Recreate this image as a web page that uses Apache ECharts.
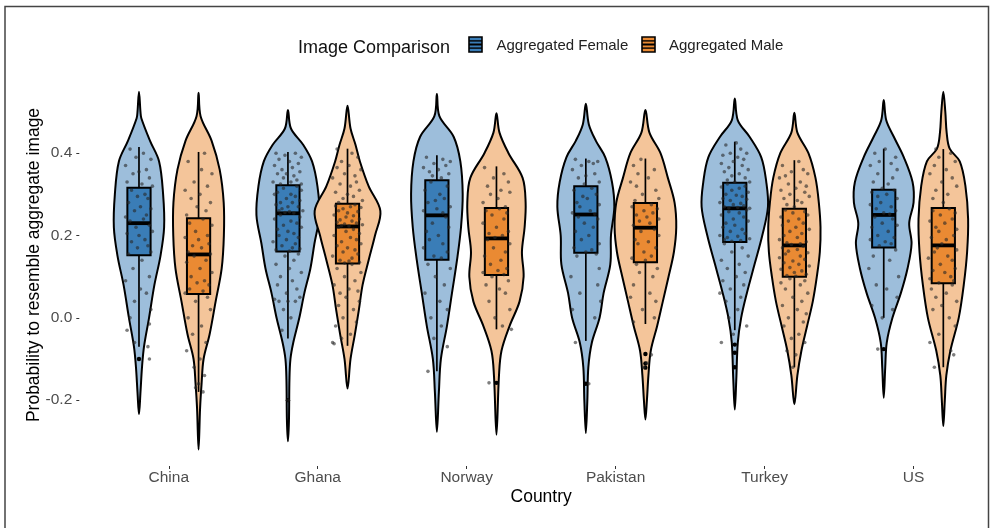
<!DOCTYPE html>
<html>
<head>
<meta charset="utf-8">
<script src="https://cdn.jsdelivr.net/npm/echarts@6/dist/echarts.min.js"></script>
<style>
  html, body { margin: 0; padding: 0; background: #fff; }
  #chart { width: 996px; height: 528px; }
</style>
</head>
<body>
<div id="chart"></div>
<script>
// ---- data -------------------------------------------------------------
const countries = ['China', 'Ghana', 'Norway', 'Pakistan', 'Turkey', 'US'];
const groupNames = ['Aggregated Female', 'Aggregated Male'];
const yTicks = [-0.2, 0.0, 0.2, 0.4];

// box statistics per country: [lower whisker, Q1, median, Q3, upper whisker]
const femaleBox = [
  [-0.07, 0.152, 0.230, 0.316, 0.415],
  [-0.05, 0.161, 0.254, 0.322, 0.403],
  [-0.13, 0.141, 0.249, 0.334, 0.395],
  [-0.056, 0.158, 0.251, 0.320, 0.387],
  [-0.03, 0.184, 0.266, 0.328, 0.428],
  [0.00, 0.171, 0.250, 0.311, 0.411]
];
const maleBox = [
  [-0.18, 0.058, 0.154, 0.242, 0.403],
  [-0.068, 0.132, 0.222, 0.277, 0.411],
  [-0.028, 0.104, 0.193, 0.267, 0.368],
  [-0.015, 0.135, 0.219, 0.279, 0.387],
  [-0.12, 0.100, 0.176, 0.265, 0.383],
  [-0.12, 0.084, 0.176, 0.267, 0.410]
];

// boxplot outliers per country
const femaleOutliers = [[-0.10], [-0.20], [], [-0.16], [-0.065, -0.085, -0.12], [-0.076]];
const maleOutliers = [[], [], [-0.158], [-0.088, -0.111, -0.121], [], []];

// violin density outlines: [value, relative density], bottom tip to top tip
const femaleViolin = [
  [[-0.234,0],[-0.18,.045],[-0.12,.09],[-0.07,.15],[0,.30],[.08,.46],[.15,.64],[.22,.75],[.30,.72],[.38,.60],[.43,.33],[.485,.07],[.50,.045],[.549,0]],
  [[-0.30,0],[-0.25,.03],[-0.15,.045],[-0.10,.075],[-0.06,.16],[0,.34],[.06,.49],[.12,.67],[.18,.79],[.25,.94],[.32,.88],[.38,.72],[.42,.46],[.46,.09],[.505,0]],
  [[-0.277,0],[-0.18,.06],[-0.10,.12],[-0.02,.30],[.06,.45],[.14,.60],[.22,.72],[.30,.77],[.38,.70],[.44,.50],[.49,.075],[.544,0]],
  [[-0.28,0],[-0.20,.045],[-0.12,.075],[-0.06,.18],[0,.41],[.06,.53],[.13,.73],[.20,.75],[.27,.85],[.33,.78],[.39,.58],[.43,.30],[.47,.09],[.52,0]],
  [[-0.223,0],[-0.15,.045],[-0.06,.09],[0,.19],[.06,.36],[.13,.59],[.20,.82],[.27,.99],[.33,.94],[.39,.79],[.44,.44],[.48,.09],[.533,0]],
  [[-0.194,0],[-0.12,.045],[-0.06,.09],[0,.26],[.06,.51],[.12,.71],[.18,.83],[.23,.76],[.28,.89],[.33,.86],[.39,.60],[.44,.30],[.48,.075],[.529,0]]
];
const maleViolin = [
  [[-0.32,0],[-0.22,.045],[-0.16,.09],[-0.10,.15],[-0.04,.33],[.04,.51],[.12,.69],[.20,.755],[.28,.75],[.36,.63],[.43,.39],[.49,.06],[.547,0]],
  [[-0.172,0],[-0.10,.09],[-0.04,.22],[.02,.34],[.08,.45],[.14,.63],[.20,.82],[.26,.98],[.32,.63],[.38,.37],[.42,.24],[.46,.09],[.515,0]],
  [[-0.284,0],[-0.14,.075],[-0.08,.15],[-0.02,.39],[.04,.69],[.10,.81],[.16,.76],[.22,.84],[.28,.87],[.34,.78],[.40,.36],[.45,.09],[.497,0]],
  [[-0.247,0],[-0.20,.045],[-0.14,.09],[-0.08,.16],[-0.02,.35],[.04,.52],[.10,.69],[.16,.85],[.22,.92],[.28,.87],[.34,.67],[.40,.45],[.45,.12],[.505,0]],
  [[-0.21,0],[-0.14,.09],[-0.08,.21],[-0.02,.38],[.04,.55],[.10,.67],[.16,.76],[.22,.78],[.28,.73],[.34,.63],[.40,.42],[.45,.09],[.498,0]],
  [[-0.263,0],[-0.20,.045],[-0.14,.09],[-0.08,.21],[0,.46],[.08,.61],[.16,.71],[.24,.74],[.32,.66],[.38,.49],[.411,.19],[.45,.10],[.50,.06],[.549,0]]
];

// individual observations: [horizontal jitter (% of category band), value]
const chinaFemalePts = [[-6,.41],[3,.40],[-2,.39],[8,.385],[-9,.37],[5,.36],[0,.355],[-4,.35],[7,.34],[-8,.33],[2,.325],[9,.32],
  [-5,.31],[4,.30],[-1,.295],[6,.29],[-7,.28],[1,.27],[8,.265],[-3,.26],[5,.25],[-9,.245],[3,.24],[-6,.235],
  [7,.225],[-2,.22],[9,.21],[-8,.205],[0,.20],[4,.19],[-5,.185],[6,.175],[-1,.17],[8,.16],[-7,.155],
  [2,.14],[-4,.12],[7,.10],[-9,.09],[1,.07],[5,.06],[-3,.04],[8,.02],[-6,.0],[7,-.015],[-8,-.03],[-3,-.06],[6,-.07],[7,-.10]];
const chinaMalePts = [[4,.40],[-7,.38],[2,.36],[9,.35],[-3,.33],[6,.32],[-9,.31],[1,.30],[-5,.29],[8,.28],[-1,.27],[5,.26],[-8,.25],
  [3,.24],[-6,.23],[9,.225],[-2,.21],[6,.20],[-9,.195],[0,.19],[7,.18],[-4,.175],[2,.17],[-7,.16],[8,.155],
  [-3,.15],[5,.14],[-8,.135],[1,.12],[9,.11],[-5,.10],[4,.09],[-1,.085],[7,.08],[-6,.07],[3,.065],[-9,.06],
  [6,.05],[-2,.04],[8,.02],[-7,.0],[2,-.02],[-4,-.04],[5,-.06],[-8,-.08],[1,-.10],[-3,-.12],[4,-.14],[0,-.16],[-2,-.17],[3,-.18]];
const ghanaFemalePts = [[-8,.40],[5,.40],[-2,.395],[9,.39],[-6,.385],[1,.38],[7,.375],[-9,.37],[3,.365],[-4,.36],[8,.355],[-1,.35],[-7,.35],[4,.345],[-3,.34],[6,.335],[-10,.33],[2,.33],[9,.325],[-5,.325],
  [6,.32],[-3,.315],[9,.31],[-7,.305],[2,.30],[-9,.30],[5,.295],[-1,.29],[8,.285],[-5,.28],[3,.28],[-8,.275],[0,.27],[7,.27],[-4,.265],[10,.26],[-6,.26],[1,.258],[-2,.256],[4,.255],
  [-5,.25],[8,.245],[-9,.24],[2,.235],[6,.23],[-3,.225],[9,.22],[-7,.215],[0,.21],[4,.205],[-6,.20],[7,.195],[-1,.19],[-10,.185],[5,.18],[-4,.175],[3,.17],[8,.168],[-8,.165],[1,.162],
  [7,.155],[-2,.15],[4,.14],[-8,.13],[1,.12],[9,.11],[-5,.10],[3,.09],[-7,.08],[6,.07],[-1,.06],[8,.05],[-9,.045],[-6,.04],[0,.04],[5,.04],[-3,.02],[2,.0],[-4,-.03],[0,-.20]];
const ghanaMalePts = [[-7,.41],[3,.40],[7,.39],[-4,.38],[1,.37],[-7,.365],[9,.36],[-2,.35],[5,.345],[-10,.34],[6,.33],[-5,.325],[2,.32],[8,.31],[-8,.305],[0,.30],[4,.295],[-3,.29],[10,.285],[-6,.28],
  [5,.275],[-8,.272],[2,.27],[9,.268],[-3,.265],[-6,.26],[7,.258],[0,.255],[-9,.25],[4,.248],[-1,.245],[8,.24],[-5,.238],[3,.235],[-7,.232],[6,.23],[-2,.228],[10,.226],[-4,.224],[1,.223],
  [-6,.22],[4,.215],[-1,.21],[8,.205],[-9,.20],[2,.195],[6,.19],[-4,.185],[9,.18],[-7,.175],[0,.17],[5,.165],[-3,.16],[7,.155],[-10,.15],[3,.145],[-5,.14],[1,.138],[8,.135],[-2,.133],
  [3,.13],[-7,.12],[9,.11],[-2,.10],[5,.09],[-9,.08],[1,.07],[7,.065],[-5,.06],[-1,.05],[8,.04],[-6,.03],[4,.02],[-3,.0],[6,-.01],[-8,-.02],[2,-.04],[-4,-.05],[-10,-.06],[-9,-.063]];
const norwayFemalePts = [[-7,.39],[4,.385],[9,.38],[-2,.375],[6,.37],[-9,.365],[1,.36],[-5,.355],[8,.35],[-3,.345],[3,.34],
  [-4,.33],[7,.32],[-8,.31],[2,.30],[5,.29],[-1,.285],[-6,.28],[9,.27],[0,.265],[-9,.26],[4,.255],
  [6,.245],[-3,.23],[8,.22],[-7,.21],[1,.20],[-5,.19],[4,.18],[-9,.17],[7,.16],[-2,.15],[3,.145],
  [-6,.13],[9,.12],[-1,.10],[5,.08],[-8,.06],[2,.04],[7,.02],[-4,.0],[3,-.02],[-2,-.05],[7,-.07],[-6,-.13]];
const norwayMalePts = [[-8,.365],[5,.35],[-2,.34],[8,.33],[-6,.32],[3,.31],[9,.305],[-4,.30],[1,.29],[-9,.28],[6,.27],
  [2,.265],[-7,.26],[7,.255],[-3,.25],[5,.24],[-9,.23],[0,.22],[8,.21],[-5,.205],[4,.20],[-1,.195],
  [-6,.19],[9,.18],[-2,.17],[6,.16],[-8,.15],[3,.14],[-4,.13],[7,.12],[1,.115],[-9,.11],[5,.105],
  [-3,.10],[8,.09],[-7,.08],[2,.07],[6,.06],[-5,.04],[9,.02],[-1,.0],[4,-.02],[10,-.028],[-5,-.158]];
const pakistanFemalePts = [[-7,.385],[2,.38],[8,.38],[5,.375],[-3,.37],[-9,.36],[6,.35],[0,.345],[-5,.34],[9,.33],[-1,.325],
  [4,.315],[-8,.31],[7,.30],[-2,.295],[1,.29],[-6,.28],[9,.275],[-4,.27],[3,.26],[-9,.255],[6,.252],
  [-5,.245],[8,.24],[-1,.23],[5,.22],[-7,.21],[2,.20],[-3,.19],[9,.18],[-8,.17],[4,.165],[0,.16],
  [7,.155],[-6,.15],[9,.12],[-10,.10],[8,.08],[-4,.06],[10,.04],[-9,.02],[6,.0],[-7,-.06],[2,-.16]];
const pakistanMalePts = [[-3,.385],[-8,.37],[6,.36],[-5,.35],[2,.34],[-10,.33],[-6,.32],[7,.31],[-2,.30],[9,.29],[-7,.285],
  [4,.275],[-9,.27],[8,.265],[-1,.26],[5,.255],[-6,.25],[1,.245],[9,.24],[-4,.235],[3,.23],[-8,.225],
  [6,.215],[-3,.21],[9,.20],[-7,.19],[2,.185],[-5,.18],[7,.17],[-1,.16],[4,.15],[-9,.145],[0,.14],
  [-6,.13],[8,.12],[-4,.11],[5,.10],[-8,.08],[3,.06],[-10,.05],[7,.04],[-2,.02],[6,.0],[-8,-.01],[4,-.09],[1,-.11],[-1,-.12]];
const turkeyFemalePts = [[1,.425],[-6,.42],[4,.41],[-3,.40],[8,.40],[-8,.395],[2,.39],[6,.385],[-1,.38],[-9,.375],[5,.37],[-4,.365],[9,.36],[-7,.355],[3,.35],[-2,.345],[7,.34],[-5,.335],[0,.33],[10,.33],
  [-5,.325],[7,.32],[-9,.318],[3,.315],[-2,.31],[9,.305],[-6,.30],[1,.298],[5,.295],[-8,.29],[8,.288],[-3,.285],[-10,.28],[4,.278],[-1,.275],[6,.272],[-7,.27],[2,.268],[-4,.267],[10,.266],
  [8,.262],[-4,.258],[3,.255],[-9,.25],[6,.245],[-1,.24],[9,.235],[-6,.23],[0,.225],[-8,.22],[5,.215],[-3,.21],[7,.205],[-10,.20],[2,.198],[-5,.195],[10,.192],[-7,.19],[4,.188],[-2,.186],
  [-7,.18],[5,.17],[-2,.16],[9,.15],[-9,.14],[3,.13],[-5,.12],[7,.11],[1,.10],[-8,.09],[6,.08],[-3,.07],[-10,.06],[4,.05],[-6,.04],[2,.02],[-4,.0],[8,-.02],[-1,-.04],[-9,-.06]];
const turkeyMalePts = [[3,.38],[-8,.37],[6,.36],[-2,.355],[9,.35],[-6,.345],[-10,.34],[4,.33],[-4,.325],[8,.32],[1,.315],[-9,.31],[7,.305],[-3,.30],[10,.295],[-7,.29],[2,.285],[5,.28],[-5,.275],[0,.27],
  [-6,.262],[7,.258],[-1,.255],[9,.25],[-9,.245],[3,.24],[-4,.235],[6,.23],[-8,.225],[1,.22],[10,.215],[-3,.21],[5,.205],[-7,.20],[2,.195],[-10,.19],[8,.185],[-5,.182],[4,.18],[-2,.178],
  [6,.174],[-8,.17],[2,.166],[-4,.162],[9,.158],[-6,.155],[4,.15],[-10,.146],[7,.142],[-1,.138],[-7,.134],[3,.13],[10,.126],[-3,.122],[-9,.118],[5,.114],[0,.11],[8,.106],[-5,.103],[1,.101],
  [-3,.095],[7,.09],[-9,.085],[4,.08],[-6,.07],[9,.06],[-1,.05],[5,.04],[-8,.03],[2,.02],[8,.01],[-4,.0],[6,-.01],[-7,-.02],[3,-.04],[-2,-.05],[7,-.06],[-5,-.08],[1,-.09],[-1,-.12]];
const usFemalePts = [[1,.41],[-6,.40],[8,.39],[-3,.38],[5,.375],[-9,.37],[9,.36],[-4,.35],[6,.34],[-7,.33],[3,.325],[-1,.315],
  [7,.31],[-8,.305],[2,.30],[-4,.295],[9,.29],[-2,.28],[-9,.275],[5,.27],[-5,.265],[8,.26],[0,.255],[4,.252],
  [-6,.245],[6,.24],[-1,.23],[9,.225],[-8,.22],[3,.21],[-4,.20],[7,.195],[-9,.19],[1,.185],[5,.18],[-3,.175],
  [8,.165],[-7,.15],[4,.14],[-10,.12],[10,.10],[-5,.08],[2,.07],[9,.05],[-8,.03],[6,.02],[-1,.0],[-4,-.076]];
const usMalePts = [[-5,.41],[5,.40],[-3,.39],[8,.38],[-6,.37],[2,.36],[-9,.35],[6,.34],[-1,.33],[9,.32],[-5,.31],[3,.30],[-7,.29],[0,.28],
  [4,.265],[-7,.26],[8,.255],[-2,.25],[6,.24],[-9,.235],[1,.23],[-5,.22],[9,.215],[-3,.21],[7,.20],[-8,.195],[2,.19],[-1,.18],
  [-4,.17],[9,.165],[-6,.16],[3,.15],[-10,.145],[6,.14],[-2,.13],[8,.12],[-7,.115],[1,.11],[5,.10],[-9,.095],[7,.09],[-3,.085],
  [6,.08],[-8,.07],[2,.06],[-5,.05],[9,.04],[-1,.03],[-7,.02],[4,.0],[8,-.02],[-3,-.04],[-9,-.06],[5,-.08],[7,-.09],[-6,-.12]];

const femalePoints = [chinaFemalePts, ghanaFemalePts, norwayFemalePts, pakistanFemalePts, turkeyFemalePts, usFemalePts];
const malePoints = [chinaMalePts, ghanaMalePts, norwayMalePts, pakistanMalePts, turkeyMalePts, usMalePts];

// ---- drawing ----------------------------------------------------------
const FONT = '"Liberation Sans", Arial, Helvetica, sans-serif';
const DODGE = 0.2;          // group offset from the category centre (band units)
const VIOLIN_HALF = 0.225;  // half-width of a violin at density 1 (band units)
const BOX_HALF = 0.078;     // half-width of a box (band units)
const colors = {
  female: { violin: '#9DBEDB', box: '#3A7DB7' },
  male:   { violin: '#F4C59A', box: '#EA8A33' }
};

function buildSeries(name, side, boxes, outliers, violins, points, col) {
  return {
    type: 'custom',
    name: name,
    data: countries.map((c, i) => [i]),
    renderItem: function (params, api) {
      const i = api.value(0);
      const band = api.size([1, 0])[0];
      const cx = api.coord([i, 0])[0] + side * DODGE * band;
      const py = v => api.coord([i, v])[1];
      const halfMax = VIOLIN_HALF * band;
      const prof = violins[i];
      const left = prof.map(([v, d]) => [cx - d * halfMax, py(v)]);
      const right = prof.slice(1, -1).reverse().map(([v, d]) => [cx + d * halfMax, py(v)]);
      const b = boxes[i];
      const bh = BOX_HALF * band;
      const children = [
        { type: 'polygon', shape: { points: left.concat(right), smooth: 0.35 },
          style: { fill: col.violin, stroke: '#000', lineWidth: 2 } },
        { type: 'line', shape: { x1: cx, y1: py(b[4]), x2: cx, y2: py(b[3]) },
          style: { stroke: '#000', lineWidth: 1.7 } },
        { type: 'line', shape: { x1: cx, y1: py(b[1]), x2: cx, y2: py(b[0]) },
          style: { stroke: '#000', lineWidth: 1.7 } },
        { type: 'rect', shape: { x: cx - bh, y: py(b[3]), width: 2 * bh, height: py(b[1]) - py(b[3]) },
          style: { fill: col.box, stroke: '#000', lineWidth: 2 } },
        { type: 'line', shape: { x1: cx - bh, y1: py(b[2]), x2: cx + bh, y2: py(b[2]) },
          style: { stroke: '#000', lineWidth: 3.8 } }
      ];
      outliers[i].forEach(v => children.push({
        type: 'circle', shape: { cx: cx, cy: py(v), r: 2.2 }, style: { fill: '#000' }
      }));
      points[i].forEach(([j, v]) => children.push({
        type: 'circle', shape: { cx: cx + j / 100 * band, cy: py(v), r: 1.8 },
        style: { fill: 'rgba(40,40,40,0.6)' }
      }));
      return { type: 'group', children: children };
    }
  };
}

function legendKey(x, y, col) {
  return {
    type: 'group', x: x, y: y,
    children: [
      { type: 'rect', shape: { x: 0, y: 0, width: 13, height: 15 },
        style: { fill: col.box, stroke: '#000', lineWidth: 1.6 } },
      { type: 'line', shape: { x1: 0, y1: 3.9, x2: 13, y2: 3.9 },
        style: { stroke: '#000', lineWidth: 1.4 } },
      { type: 'line', shape: { x1: 0, y1: 7.5, x2: 13, y2: 7.5 },
        style: { stroke: '#000', lineWidth: 2 } },
      { type: 'line', shape: { x1: 0, y1: 11.1, x2: 13, y2: 11.1 },
        style: { stroke: '#000', lineWidth: 1.4 } }
    ]
  };
}

const chart = echarts.init(document.getElementById('chart'), null, { renderer: 'canvas' });
chart.setOption({
  animation: false,
  backgroundColor: '#fff',
  grid: { left: 94.3, right: 8, top: 75, bottom: 62, containLabel: false },
  xAxis: {
    type: 'category',
    data: countries,
    boundaryGap: true,
    axisLine: { show: false, onZero: false },
    axisTick: { show: true, alignWithLabel: true, length: 3, lineStyle: { color: '#333', width: 1 } },
    axisLabel: { margin: 4, fontSize: 15.5, color: '#4d4d4d', fontFamily: FONT },
    splitLine: { show: false },
    name: 'Country',
    nameLocation: 'middle',
    nameGap: 22,
    nameMoveOverlap: false,
    nameTextStyle: { fontSize: 17.5, color: '#000', fontFamily: FONT }
  },
  yAxis: {
    type: 'value',
    min: -0.36,
    max: 0.59,
    offset: 15,
    axisLine: { show: false },
    axisTick: { show: true, length: 3, customValues: yTicks, lineStyle: { color: '#333', width: 1 } },
    axisLabel: { margin: 7, fontSize: 15.5, color: '#4d4d4d', fontFamily: FONT,
      customValues: yTicks, formatter: v => v.toFixed(1) },
    splitLine: { show: false },
    name: 'Probability to resemble aggregate image',
    nameLocation: 'middle',
    nameGap: 36,
    nameMoveOverlap: false,
    nameTextStyle: { fontSize: 17.5, color: '#000', fontFamily: FONT, padding: [0, 0, 0, 11] }
  },
  graphic: [
    { type: 'rect', shape: { x: 5, y: 6.5, width: 983.5, height: 560 }, silent: true,
      style: { fill: 'none', stroke: '#444', lineWidth: 1.5 } },
    { type: 'text', x: 298, y: 48,
      style: { text: 'Image Comparison', fontSize: 18, fontFamily: FONT, fill: '#111', verticalAlign: 'middle' } },
    legendKey(469, 37, colors.female),
    { type: 'text', x: 496.5, y: 45.5,
      style: { text: groupNames[0], fontSize: 15, fontFamily: FONT, fill: '#222', verticalAlign: 'middle' } },
    legendKey(642, 37, colors.male),
    { type: 'text', x: 669, y: 45.5,
      style: { text: groupNames[1], fontSize: 15, fontFamily: FONT, fill: '#222', verticalAlign: 'middle' } }
  ],
  series: [
    buildSeries(groupNames[0], -1, femaleBox, femaleOutliers, femaleViolin, femalePoints, colors.female),
    buildSeries(groupNames[1], 1, maleBox, maleOutliers, maleViolin, malePoints, colors.male)
  ]
});
</script>
</body>
</html>
